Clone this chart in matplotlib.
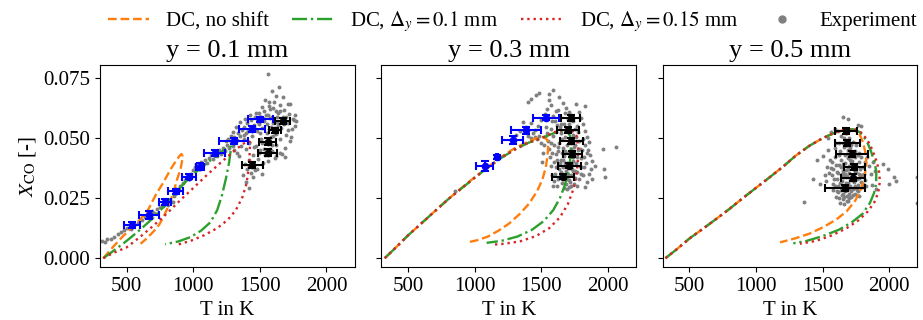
import matplotlib
matplotlib.use('Agg')
import matplotlib.pyplot as plt
from matplotlib.lines import Line2D

#-------------------------------------------------------------------------------
#DATA

titles = ['y = 0.1 mm', 'y = 0.3 mm', 'y = 0.5 mm']
labels = ['DC, no shift', r'DC, $\Delta_y = 0.1$ mm', r'DC, $\Delta_y = 0.15$ mm', 'Experiment']

#panel 1 (y = 0.1 mm)
no_shift_1_T = [325, 400, 470, 540, 600, 660, 720, 770, 830, 870, 900, 912, 920, 918, 905, 880, 850, 815, 780, 745, 700, 650, 605]
no_shift_1_X = [0.0, 0.0048, 0.0090, 0.0128, 0.0160, 0.0200, 0.0265, 0.0310, 0.0370, 0.0405, 0.0428, 0.0434, 0.0425,
                0.0410, 0.0370, 0.0330, 0.0270, 0.0220, 0.0175, 0.0140, 0.0110, 0.0082, 0.0060]
shift01_1_T = [325, 400, 500, 600, 700, 780, 850, 920, 1000, 1100, 1200, 1260, 1285, 1270, 1245, 1215, 1180, 1130, 1060, 980, 890, 790]
shift01_1_X = [0.0, 0.0030, 0.0072, 0.0118, 0.0168, 0.0215, 0.0262, 0.0305, 0.0350, 0.0395, 0.0438, 0.0462, 0.0465,
               0.0400, 0.0330, 0.0260, 0.0200, 0.0150, 0.0115, 0.0088, 0.0070, 0.0058]
shift015_1_T = [325, 400, 500, 600, 700, 800, 900, 1000, 1100, 1200, 1300, 1370, 1410, 1428, 1425, 1418, 1400, 1370, 1320, 1260, 1180, 1080, 980, 875]
shift015_1_X = [0.0, 0.0022, 0.0045, 0.0088, 0.0135, 0.0185, 0.0240, 0.0292, 0.0345, 0.0395, 0.0443, 0.0475, 0.0487, 0.0482,
                0.0450, 0.0380, 0.0310, 0.0255, 0.0200, 0.0160, 0.0125, 0.0095, 0.0072, 0.0055]

#panel 2 (y = 0.3 mm)
no_shift_2_T = [325, 400, 500, 600, 700, 800, 900, 1000, 1100, 1200, 1300, 1400, 1480, 1525, 1548, 1552, 1548, 1535, 1510, 1470,
                1410, 1340, 1260, 1180, 1100, 1020, 940]
no_shift_2_X = [0.0, 0.0040, 0.0095, 0.0145, 0.0195, 0.0245, 0.0292, 0.0337, 0.0380, 0.0422, 0.0458, 0.0485, 0.0503, 0.0505,
                0.0490, 0.0470, 0.0430, 0.0380, 0.0330, 0.0280, 0.0228, 0.0185, 0.0145, 0.0115, 0.0090, 0.0075, 0.0065]
shift01_2_T = [325, 400, 500, 600, 700, 800, 900, 1000, 1100, 1200, 1300, 1400, 1500, 1600, 1650, 1700, 1722, 1722, 1715, 1700,
               1675, 1640, 1590, 1520, 1430, 1320, 1200, 1090]
shift01_2_X = [0.0, 0.0040, 0.0095, 0.0145, 0.0195, 0.0245, 0.0290, 0.0335, 0.0378, 0.0418, 0.0452, 0.0480, 0.0500, 0.0522,
               0.0530, 0.0532, 0.0500, 0.0450, 0.0400, 0.0350, 0.0300, 0.0250, 0.0200, 0.0155, 0.0118, 0.0090, 0.0072, 0.0064]
shift015_2_T = [325, 400, 500, 600, 700, 800, 900, 1000, 1100, 1200, 1300, 1400, 1500, 1600, 1680, 1730, 1765, 1778, 1775, 1762,
                1740, 1700, 1640, 1560, 1460, 1340, 1220, 1125]
shift015_2_X = [0.0, 0.0040, 0.0095, 0.0145, 0.0195, 0.0245, 0.0290, 0.0335, 0.0378, 0.0418, 0.0452, 0.0480, 0.0500, 0.0525,
                0.0537, 0.0535, 0.0510, 0.0460, 0.0400, 0.0340, 0.0285, 0.0225, 0.0170, 0.0125, 0.0092, 0.0070, 0.0060, 0.0056]

#panel 3 (y = 0.5 mm)
no_shift_3_T = [320, 400, 500, 600, 700, 800, 900, 1000, 1100, 1200, 1300, 1400, 1500, 1600, 1680, 1730, 1775, 1805, 1825, 1828,
                1815, 1790, 1745, 1680, 1600, 1500, 1400, 1290, 1180]
no_shift_3_X = [0.0, 0.0035, 0.0082, 0.0122, 0.0163, 0.0205, 0.0250, 0.0293, 0.0336, 0.0380, 0.0428, 0.0468, 0.0500, 0.0525,
                0.0537, 0.0535, 0.0520, 0.0480, 0.0430, 0.0390, 0.0340, 0.0290, 0.0240, 0.0195, 0.0160, 0.0128, 0.0102, 0.0082, 0.0066]
shift01_3_T = [320, 400, 500, 600, 700, 800, 900, 1000, 1100, 1200, 1300, 1400, 1500, 1600, 1680, 1730, 1780, 1830, 1860, 1890,
               1903, 1902, 1885, 1855, 1800, 1720, 1620, 1500, 1380, 1280]
shift01_3_X = [0.0, 0.0035, 0.0082, 0.0122, 0.0163, 0.0205, 0.0250, 0.0293, 0.0336, 0.0380, 0.0428, 0.0468, 0.0500, 0.0525,
               0.0537, 0.0537, 0.0525, 0.0490, 0.0450, 0.0400, 0.0360, 0.0310, 0.0270, 0.0230, 0.0185, 0.0150, 0.0118, 0.0092, 0.0072, 0.0062]
shift015_3_T = [320, 400, 500, 600, 700, 800, 900, 1000, 1100, 1200, 1300, 1400, 1500, 1600, 1680, 1740, 1800, 1855, 1895, 1922,
                1930, 1918, 1890, 1840, 1770, 1680, 1570, 1450, 1330]
shift015_3_X = [0.0, 0.0035, 0.0082, 0.0122, 0.0163, 0.0205, 0.0250, 0.0293, 0.0336, 0.0380, 0.0428, 0.0468, 0.0500, 0.0525,
                0.0537, 0.0538, 0.0520, 0.0475, 0.0420, 0.0370, 0.0320, 0.0275, 0.0235, 0.0195, 0.0158, 0.0125, 0.0095, 0.0072, 0.0060]

#averaged experiment, blue (left branch) and black (right branch)
blue_1_T = [542, 670, 790, 868, 970, 1051, 1160, 1305, 1440, 1505]
blue_1_X = [0.0137, 0.0180, 0.0233, 0.0278, 0.0340, 0.0382, 0.0437, 0.0489, 0.0538, 0.0578]
blue_1_Terr = [58, 75, 44, 54, 54, 30, 76, 108, 98, 94]
blue_1_Xerr = [0.0012, 0.0015, 0.0012, 0.0012, 0.0012, 0.0013, 0.0012, 0.0013, 0.0012, 0.0011]
black_1_T = [1672, 1614, 1559, 1559, 1444]
black_1_X = [0.0573, 0.0532, 0.0486, 0.0440, 0.0389]
black_1_Terr = [55, 48, 63, 71, 81]
black_1_Xerr = [0.0012, 0.0012, 0.0014, 0.0014, 0.0013]

blue_2_T = [1075, 1170, 1287, 1387, 1537]
blue_2_X = [0.0385, 0.0421, 0.0493, 0.0532, 0.0586]
blue_2_Terr = [65, 8, 80, 112, 97]
blue_2_Xerr = [0.0021, 0.0007, 0.0016, 0.0014, 0.0012]
black_2_T = [1720, 1702, 1725, 1734, 1712, 1662]
black_2_X = [0.0583, 0.0533, 0.0488, 0.0434, 0.0386, 0.0340]
black_2_Terr = [69, 80, 87, 72, 84, 84]
black_2_Xerr = [0.0013, 0.0013, 0.0012, 0.0013, 0.0012, 0.0012]

black_3_T = [1676, 1686, 1718, 1738, 1726, 1668]
black_3_X = [0.0529, 0.0480, 0.0433, 0.0381, 0.0336, 0.0292]
black_3_Terr = [84, 91, 119, 79, 91, 152]
black_3_Xerr = [0.0012, 0.0013, 0.0013, 0.0013, 0.0013, 0.0012]

#single measurements (T in K, X_CO)
exp_1 = [(318, 0.0072), (338, 0.0068), (352, 0.0078), (380, 0.0082), (405, 0.0090), (432, 0.0101), (455, 0.0110), (478, 0.0117),
         (505, 0.0124), (530, 0.0121), (556, 0.0139), (585, 0.0148), (612, 0.0160), (636, 0.0171), (662, 0.0180), (688, 0.0195),
         (705, 0.0188), (728, 0.0206), (752, 0.0213), (775, 0.0219), (796, 0.0229), (812, 0.0221), (826, 0.0243), (845, 0.0236),
         (858, 0.0260), (874, 0.0272), (892, 0.0284), (903, 0.0300), (921, 0.0312), (938, 0.0325), (952, 0.0340), (968, 0.0331),
         (984, 0.0352), (996, 0.0366), (1012, 0.0380), (1024, 0.0392), (1041, 0.0372), (1058, 0.0401), (1072, 0.0388),
         (1090, 0.0410), (1104, 0.0396), (1118, 0.0418), (1132, 0.0430), (1146, 0.0412), (1163, 0.0440), (1178, 0.0427),
         (1194, 0.0449), (1208, 0.0436), (1221, 0.0458), (1238, 0.0447), (1252, 0.0470), (1266, 0.0458), (1281, 0.0482),
         (1297, 0.0468), (1372, 0.0345), (1395, 0.0318), (1418, 0.0292), (1402, 0.0372), (1431, 0.0355), (1448, 0.0338),
         (1386, 0.0392), (1462, 0.0366), (1420, 0.0410), (1346, 0.0425), (1310, 0.0503), (1326, 0.0492), (1338, 0.0521),
         (1352, 0.0508), (1365, 0.0534), (1378, 0.0497), (1384, 0.0548), (1399, 0.0521), (1406, 0.0562), (1417, 0.0484),
         (1428, 0.0539), (1436, 0.0575), (1444, 0.0510), (1453, 0.0553), (1461, 0.0590), (1470, 0.0466), (1478, 0.0528),
         (1486, 0.0566), (1494, 0.0603), (1502, 0.0452), (1509, 0.0497), (1517, 0.0541), (1524, 0.0582), (1531, 0.0612),
         (1538, 0.0428), (1544, 0.0478), (1551, 0.0522), (1557, 0.0561), (1563, 0.0597), (1569, 0.0634), (1575, 0.0455),
         (1581, 0.0505), (1587, 0.0548), (1594, 0.0589), (1600, 0.0625), (1606, 0.0652), (1612, 0.0418), (1618, 0.0472),
         (1625, 0.0519), (1632, 0.0567), (1640, 0.0604), (1648, 0.0438), (1655, 0.0495), (1662, 0.0542), (1671, 0.0588),
         (1680, 0.0619), (1690, 0.0461), (1699, 0.0513), (1709, 0.0563), (1718, 0.0601), (1730, 0.0488), (1742, 0.0537),
         (1755, 0.0574), (1768, 0.0551), (1452, 0.0429), (1488, 0.0412), (1525, 0.0398), (1560, 0.0404), (1595, 0.0445),
         (1625, 0.0425), (1665, 0.0432), (1688, 0.0420), (1540, 0.0660), (1571, 0.0649), (1559, 0.0767), (1645, 0.0712),
         (1592, 0.0697), (1621, 0.0676), (1727, 0.0644), (1712, 0.0643), (1747, 0.0578), (1675, 0.0671), (1580, 0.0622),
         (1515, 0.0628), (1470, 0.0603), (1430, 0.0596), (1392, 0.0580), (1355, 0.0566), (1322, 0.0548), (1300, 0.0525),
         (1284, 0.0511), (1262, 0.0496), (1245, 0.0487), (1360, 0.0468), (1395, 0.0455), (1520, 0.0478), (1600, 0.0510),
         (1640, 0.0555), (1700, 0.0590), (1480, 0.0372), (1515, 0.0350), (1440, 0.0386), (1330, 0.0440), (1305, 0.0452),
         (1412, 0.0530), (1458, 0.0545), (1497, 0.0560), (1535, 0.0572), (1566, 0.0540), (1597, 0.0565), (1628, 0.0590),
         (1655, 0.0615), (1683, 0.0560), (1712, 0.0532), (1738, 0.0505), (1762, 0.0595), (1775, 0.0570), (1590, 0.0470),
         (1568, 0.0485), (1530, 0.0455), (1492, 0.0440), (1455, 0.0462), (1420, 0.0478), (1385, 0.0512), (1548, 0.0598),
         (1512, 0.0590), (1480, 0.0578), (1618, 0.0615), (1650, 0.0640), (1608, 0.0540), (1580, 0.0585), (1505, 0.0520)]

exp_2 = [(850, 0.0278), (1420, 0.0665), (1460, 0.0681), (1480, 0.0688), (1562, 0.0685), (1592, 0.0701), (1637, 0.0671),
         (1400, 0.0652), (2065, 0.0465), (1975, 0.0371), (1982, 0.0337), (1967, 0.0453), (1907, 0.0385), (1365, 0.0569),
         (1388, 0.0548), (1425, 0.0562), (1340, 0.0530), (1310, 0.0512), (1450, 0.0535), (1475, 0.0552), (1500, 0.0575),
         (1525, 0.0600), (1545, 0.0620), (1562, 0.0660), (1575, 0.0639), (1587, 0.0593), (1600, 0.0570), (1612, 0.0612),
         (1625, 0.0618), (1640, 0.0590), (1652, 0.0560), (1662, 0.0646), (1675, 0.0604), (1688, 0.0625), (1700, 0.0580),
         (1712, 0.0610), (1725, 0.0595), (1740, 0.0570), (1762, 0.0643), (1787, 0.0611), (1800, 0.0585), (1832, 0.0635),
         (1815, 0.0560), (1830, 0.0530), (1845, 0.0505), (1860, 0.0482), (1850, 0.0452), (1870, 0.0430), (1880, 0.0405),
         (1872, 0.0372), (1860, 0.0350), (1885, 0.0330), (1845, 0.0318), (1830, 0.0298), (1810, 0.0345), (1800, 0.0380),
         (1795, 0.0418), (1790, 0.0455), (1782, 0.0490), (1775, 0.0525), (1768, 0.0550), (1760, 0.0505), (1752, 0.0470),
         (1745, 0.0440), (1738, 0.0405), (1730, 0.0372), (1722, 0.0345), (1715, 0.0318), (1705, 0.0295), (1695, 0.0330),
         (1688, 0.0362), (1680, 0.0395), (1672, 0.0425), (1665, 0.0460), (1658, 0.0495), (1650, 0.0520), (1642, 0.0545),
         (1635, 0.0480), (1628, 0.0445), (1620, 0.0410), (1612, 0.0378), (1605, 0.0350), (1598, 0.0322), (1590, 0.0300),
         (1582, 0.0345), (1575, 0.0385), (1568, 0.0420), (1560, 0.0455), (1552, 0.0490), (1545, 0.0520), (1538, 0.0548),
         (1530, 0.0505), (1522, 0.0470), (1515, 0.0440), (1505, 0.0400), (1495, 0.0480), (1485, 0.0510), (1470, 0.0495),
         (1455, 0.0505), (1440, 0.0520), (1420, 0.0500), (1400, 0.0510), (1640, 0.0342), (1655, 0.0315), (1670, 0.0292),
         (1685, 0.0310), (1700, 0.0350), (1710, 0.0385), (1718, 0.0420), (1726, 0.0455), (1735, 0.0490), (1742, 0.0515),
         (1750, 0.0540), (1660, 0.0382), (1648, 0.0408), (1632, 0.0370), (1625, 0.0332), (1615, 0.0300), (1700, 0.0440),
         (1690, 0.0472), (1682, 0.0505), (1676, 0.0535), (1668, 0.0560), (1710, 0.0560), (1722, 0.0530), (1735, 0.0420),
         (1758, 0.0395), (1770, 0.0360), (1780, 0.0330), (1765, 0.0300), (1750, 0.0335), (1740, 0.0362), (1820, 0.0420),
         (1835, 0.0395), (1825, 0.0470), (1810, 0.0495), (1598, 0.0470), (1585, 0.0510), (1575, 0.0540), (1610, 0.0525),
         (1620, 0.0555), (1580, 0.0570), (1650, 0.0360), (1662, 0.0410), (1678, 0.0448), (1692, 0.0398), (1706, 0.0325),
         (1728, 0.0395), (1744, 0.0465), (1756, 0.0365), (1772, 0.0420), (1788, 0.0385), (1804, 0.0450), (1818, 0.0380),
         (1638, 0.0395), (1626, 0.0465), (1612, 0.0435), (1596, 0.0400), (1584, 0.0440), (1570, 0.0480), (1655, 0.0440),
         (1668, 0.0335), (1690, 0.0290), (1720, 0.0300), (1748, 0.0310), (1775, 0.0450), (1795, 0.0350), (1842, 0.0440)]

exp_3 = [(1360, 0.0236), (1430, 0.0330), (1480, 0.0310), (1525, 0.0322), (1455, 0.0410), (1500, 0.0425), (1950, 0.0392),
         (1990, 0.0370), (2000, 0.0310), (2035, 0.0340), (2050, 0.0320), (2208, 0.0340), (2208, 0.0232), (1650, 0.0590),
         (1690, 0.0580), (1762, 0.0555), (1790, 0.0550), (1870, 0.0305), (1900, 0.0290), (1540, 0.0500), (1560, 0.0525),
         (1590, 0.0540), (1615, 0.0530), (1750, 0.0470), (1775, 0.0440), (1540, 0.0450), (1555, 0.0410), (1560, 0.0375),
         (1570, 0.0345), (1575, 0.0310), (1580, 0.0285), (1590, 0.0460), (1595, 0.0420), (1600, 0.0390), (1605, 0.0360),
         (1610, 0.0330), (1612, 0.0300), (1618, 0.0275), (1620, 0.0250), (1625, 0.0480), (1630, 0.0445), (1635, 0.0410),
         (1640, 0.0378), (1642, 0.0350), (1645, 0.0322), (1648, 0.0295), (1650, 0.0268), (1655, 0.0245), (1660, 0.0500),
         (1662, 0.0462), (1666, 0.0430), (1670, 0.0398), (1672, 0.0368), (1675, 0.0340), (1678, 0.0312), (1680, 0.0285),
         (1683, 0.0260), (1686, 0.0238), (1690, 0.0450), (1694, 0.0418), (1698, 0.0385), (1700, 0.0355), (1703, 0.0330),
         (1706, 0.0302), (1710, 0.0278), (1712, 0.0255), (1716, 0.0470), (1720, 0.0440), (1722, 0.0405), (1726, 0.0375),
         (1730, 0.0345), (1733, 0.0318), (1736, 0.0292), (1740, 0.0268), (1745, 0.0420), (1750, 0.0390), (1754, 0.0360),
         (1758, 0.0332), (1762, 0.0305), (1766, 0.0280), (1772, 0.0400), (1778, 0.0372), (1784, 0.0345), (1790, 0.0318),
         (1796, 0.0295), (1805, 0.0378), (1812, 0.0350), (1818, 0.0325), (1825, 0.0300), (1835, 0.0420), (1845, 0.0385),
         (1860, 0.0350), (1880, 0.0400), (1895, 0.0365), (1640, 0.0510), (1700, 0.0500), (1730, 0.0485), (1690, 0.0240),
         (1660, 0.0225), (1630, 0.0230), (1600, 0.0255), (1570, 0.0400), (1550, 0.0355), (1530, 0.0380), (1515, 0.0345),
         (1600, 0.0480), (1705, 0.0460), (1740, 0.0445), (1765, 0.0430), (1785, 0.0420), (1620, 0.0390), (1655, 0.0365),
         (1685, 0.0342), (1715, 0.0395), (1745, 0.0362), (1775, 0.0335), (1805, 0.0310), (1650, 0.0338), (1680, 0.0305),
         (1710, 0.0325), (1740, 0.0300), (1770, 0.0258), (1635, 0.0285), (1665, 0.0280), (1695, 0.0268), (1725, 0.0290),
         (1628, 0.0312), (1652, 0.0392), (1668, 0.0350), (1688, 0.0372), (1702, 0.0290), (1718, 0.0348), (1732, 0.0375),
         (1748, 0.0330), (1760, 0.0285), (1688, 0.0315), (1662, 0.0255), (1642, 0.0262), (1612, 0.0355), (1585, 0.0330),
         (1596, 0.0300), (1575, 0.0370), (1708, 0.0410), (1735, 0.0425), (1680, 0.0435), (1655, 0.0480), (1625, 0.0430),
         (1772, 0.0350), (1795, 0.0345), (1815, 0.0400), (1700, 0.0250), (1725, 0.0265), (1650, 0.0300), (1605, 0.0282)]

#-------------------------------------------------------------------------------
#PLOT

plt.rcParams['font.family'] = ['Liberation Serif', 'DejaVu Serif']
plt.rcParams['mathtext.fontset'] = 'stix'

fig, axes = plt.subplots(1, 3, figsize=(9.23, 3.2), dpi=100, sharey=True)
fig.subplots_adjust(left=0.1083, right=0.994, bottom=0.165, top=0.797, wspace=0.105)

models = [
    [(no_shift_1_T, no_shift_1_X), (shift01_1_T, shift01_1_X), (shift015_1_T, shift015_1_X)],
    [(no_shift_2_T, no_shift_2_X), (shift01_2_T, shift01_2_X), (shift015_2_T, shift015_2_X)],
    [(no_shift_3_T, no_shift_3_X), (shift01_3_T, shift01_3_X), (shift015_3_T, shift015_3_X)],
]
styles = [('#ff7f0e', '--'), ('#2ca02c', '-.'), ('#d62728', ':')]
exps = [exp_1, exp_2, exp_3]
blues = [(blue_1_T, blue_1_X, blue_1_Terr, blue_1_Xerr), (blue_2_T, blue_2_X, blue_2_Terr, blue_2_Xerr), None]
blacks = [(black_1_T, black_1_X, black_1_Terr, black_1_Xerr), (black_2_T, black_2_X, black_2_Terr, black_2_Xerr),
          (black_3_T, black_3_X, black_3_Terr, black_3_Xerr)]

for i, ax in enumerate(axes):
    ex_T, ex_X = zip(*exps[i])
    ax.scatter(ex_T, ex_X, s=8, color='gray', linewidths=0, zorder=1)
    for (T, X), (c, ls) in zip(models[i], styles):
        ax.plot(T, X, color=c, ls=ls, lw=1.7, zorder=2)
    if blues[i] is not None:
        T, X, Te, Xe = blues[i]
        ax.errorbar(T, X, xerr=Te, yerr=Xe, fmt='o', color='blue', ms=4.5, capsize=3, elinewidth=1.5,
                    capthick=1.5, zorder=3)
    T, X, Te, Xe = blacks[i]
    ax.errorbar(T, X, xerr=Te, yerr=Xe, fmt='o', color='black', ms=4.5, capsize=3, elinewidth=1.5,
                capthick=1.5, zorder=3)
    ax.set_title(titles[i], fontsize=19)
    ax.set_xlabel('T in K', fontsize=15)
    ax.set_xlim(300, 2212)
    ax.set_xticks([500, 1000, 1500, 2000])
    ax.tick_params(labelsize=15)

axes[0].set_ylim(-0.00375, 0.0805)
axes[0].set_yticks([0.0, 0.025, 0.05, 0.075])
axes[0].set_yticklabels(['0.000', '0.025', '0.050', '0.075'])
axes[0].set_ylabel(r'$X_{\mathrm{CO}}$ [-]', fontsize=15)

handles = [Line2D([], [], color=c, ls=ls, lw=1.7) for c, ls in styles]
handles.append(Line2D([], [], color='gray', marker='o', ls='', ms=5))
fig.legend(handles, labels, loc='upper center', bbox_to_anchor=(0.555, 1.03), ncol=4, frameon=False,
           fontsize=15, columnspacing=1.1, handletextpad=0.8)

fig.savefig('out.png', dpi=100)
